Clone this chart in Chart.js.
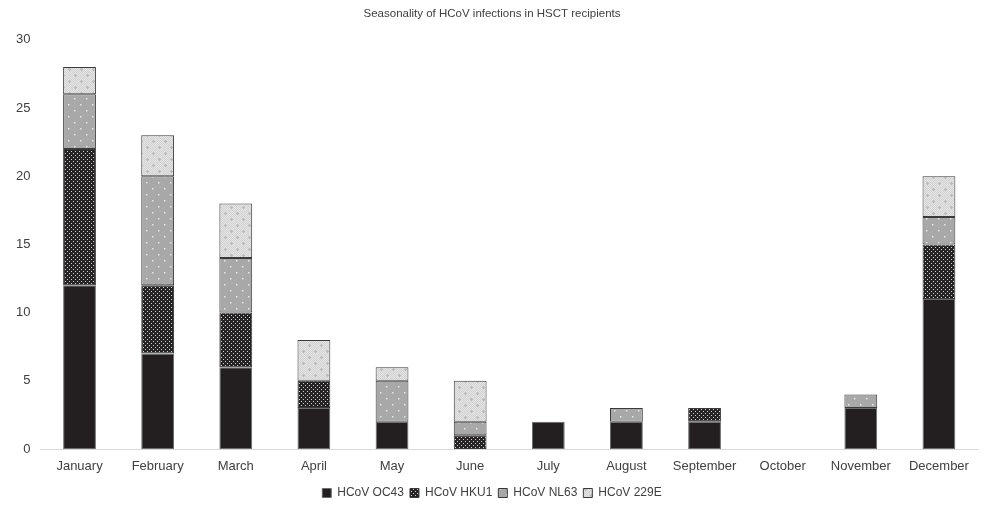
<!DOCTYPE html>
<html>
<head>
<meta charset="utf-8">
<script src="https://cdn.jsdelivr.net/npm/chart.js@4/dist/chart.umd.min.js"></script>
<style>
  html, body { margin: 0; padding: 0; background: #fff; overflow: hidden; }
  #wrap { width: 984px; height: 509px; }
</style>
</head>
<body>
<div id="wrap"><canvas id="chart"></canvas></div>
<script>
// data
const months = ["January", "February", "March", "April", "May", "June", "July", "August", "September", "October", "November", "December"];
const oc43 = [12, 7, 6, 3, 2, 0, 2, 2, 2, 0, 3, 11];
const hku1 = [10, 5, 4, 2, 0, 1, 0, 0, 1, 0, 0, 4];
const nl63 = [4, 8, 4, 0, 3, 1, 0, 1, 0, 0, 1, 2];
const e229 = [2, 3, 4, 3, 1, 3, 0, 0, 0, 0, 0, 3];
const yTicks = [0, 5, 10, 15, 20, 25, 30];

// small pattern tiles like the excel fills
function makePattern(size, bg, draw) {
  const c = document.createElement("canvas");
  c.width = size; c.height = size;
  const g = c.getContext("2d");
  g.fillStyle = bg;
  g.fillRect(0, 0, size, size);
  draw(g);
  return g.createPattern(c, "repeat");
}

const ctx = document.getElementById("chart").getContext("2d");

const dotsDark = makePattern(4, "#262324", g => {
  g.fillStyle = "#d4d4d4";
  g.fillRect(1, 1, 1, 1);
  g.fillRect(3, 3, 1, 1);
});
const dotsGrey = makePattern(12, "#a8a8a8", g => {
  g.fillStyle = "#e6e6e6";
  g.fillRect(2, 2, 1.5, 1.5);
  g.fillRect(8, 8, 1.5, 1.5);
});
const checkLight = makePattern(12, "#e4e4e4", g => {
  g.fillStyle = "#d2d2d2";
  for (let y = 0; y < 12; y++) {
    for (let x = (y % 2); x < 12; x += 2) g.fillRect(x, y, 1, 1);
  }
  g.fillStyle = "#bcbcbc";
  g.fillRect(3, 2, 1, 3);
  g.fillRect(2, 3, 3, 1);
  g.fillRect(9, 8, 1, 3);
  g.fillRect(8, 9, 3, 1);
});

const font = "'Liberation Sans', 'Open Sans', sans-serif";

function ds(label, data, fill, border) {
  return {
    label: label,
    data: data,
    backgroundColor: fill,
    borderColor: border,
    borderWidth: 1,
    borderSkipped: false,
    barPercentage: 0.42,
    categoryPercentage: 1
  };
}

new Chart(ctx, {
  type: "bar",
  data: {
    labels: months,
    datasets: [
      ds("HCoV OC43", oc43, "#231f20", "#6b6b6b"),
      ds("HCoV HKU1", hku1, dotsDark, "#3a3a3a"),
      ds("HCoV NL63", nl63, dotsGrey, "#3a3a3a"),
      ds("HCoV 229E", e229, checkLight, "#3a3a3a")
    ]
  },
  options: {
    responsive: true,
    maintainAspectRatio: false,
    animation: false,
    layout: { padding: { top: 2, left: 6, right: 6, bottom: 0 } },
    plugins: {
      title: {
        display: true,
        text: "Seasonality of HCoV infections in HSCT recipients",
        color: "#404040",
        font: { family: font, size: 11.5, weight: "normal" },
        padding: { top: 5, bottom: 19 }
      },
      legend: {
        position: "bottom",
        labels: {
          color: "#404040",
          font: { family: font, size: 12 },
          boxWidth: 9,
          boxHeight: 9,
          padding: 6
        }
      },
      tooltip: { enabled: false }
    },
    scales: {
      x: {
        stacked: true,
        grid: { display: false, drawTicks: false },
        border: { color: "#d9d9d9" },
        ticks: { color: "#404040", font: { family: font, size: 13 }, padding: 10, maxRotation: 0, autoSkip: false },
        afterFit: axis => { axis.height = 32; }
      },
      y: {
        stacked: true,
        min: 0,
        max: 30,
        afterBuildTicks: axis => { axis.ticks = yTicks.map(v => ({ value: v })); },
        grid: { display: false, drawTicks: false },
        border: { display: false },
        ticks: { color: "#404040", font: { family: font, size: 13 }, padding: 10 }
      }
    }
  }
});
</script>
</body>
</html>
